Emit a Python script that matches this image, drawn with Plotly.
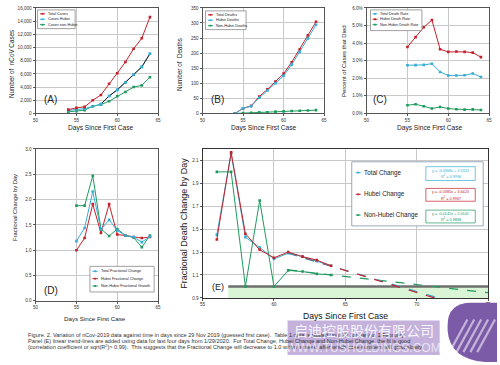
import plotly.graph_objects as go

W, H = 500, 365
FONT = "Liberation Sans, Arial, sans-serif"

RED = "#c4212b"
CYAN = "#35aed3"
GREEN = "#1f9a5e"

# ---------------- data ----------------
days_a = [54, 55, 56, 57, 58, 59, 60, 61, 62, 63, 64]
total_cases = [580, 850, 1000, 2000, 2800, 4500, 6100, 7800, 9800, 11400, 14600]
hubei_cases = [450, 550, 730, 1050, 1420, 2650, 3580, 4700, 5870, 7060, 9050]
nonhubei_cases = [250, 350, 500, 1100, 1350, 1850, 2600, 3250, 4000, 4250, 5500]

days_b = [54, 55, 56, 57, 58, 59, 60, 61, 62, 63, 64]
total_deaths = [0, 17, 25, 56, 80, 106, 132, 170, 213, 259, 304]
hubei_deaths = [0, 17, 24, 52, 76, 100, 125, 162, 204, 249, 294]
nonhubei_deaths = [0, 1, 2, 4, 4, 6, 7, 8, 9, 10, 11]

days_c = [55, 56, 57, 58, 59, 60, 61, 62, 63, 64]
total_rate = [2.74, 2.75, 2.76, 2.83, 2.36, 2.16, 2.16, 2.17, 2.27, 2.07]
hubei_rate = [3.78, 4.34, 4.90, 5.31, 3.65, 3.50, 3.52, 3.50, 3.46, 3.20]
nonhubei_rate = [0.47, 0.52, 0.41, 0.28, 0.37, 0.28, 0.24, 0.22, 0.23, 0.20]

days_d = [55, 56, 57, 58, 59, 60, 61, 62, 63, 64]
total_frac = [1.18, 1.44, 2.16, 1.41, 1.60, 1.39, 1.29, 1.26, 1.16, 1.27]
hubei_frac = [1.00, 1.24, 1.91, 1.34, 1.91, 1.31, 1.29, 1.26, 1.24, 1.26]
nonhubei_frac = [1.88, 1.88, 2.47, 1.42, 1.28, 1.42, 1.29, 1.25, 1.06, 1.29]

days_e = [56, 57, 58, 59, 60, 61, 62, 63, 64]
total_dchg = [1.45, 2.16, 1.43, 1.34, 1.24, 1.29, 1.26, 1.22, 1.18]
hubei_dchg = [1.41, 2.17, 1.46, 1.32, 1.25, 1.30, 1.26, 1.23, 1.18]
nonhubei_dchg = [2.00, 2.00, 1.00, 1.75, 1.00, 1.14, 1.13, 1.11, 1.10]

# trend lines given in panel E (slope, intercept, R^2)
trend_total = (-0.0368, 3.5323, "0.9996")
trend_hubei = (-0.0385, 3.6423, "0.9967")
trend_nonhubei = (-0.0142, 2.0101, "0.9868")
trend_x = [61, 75]

caption_lines = [
    "Figure. 2. Variation of nCov-2019 data against time in days since 29 Nov 2019 (guessed first case).  Table 1 data is plotted from 22 January to 1 February.",
    "Panel (E) linear trend-lines are added using data for last four days from 1/29/2020.  For Total Change, Hubei Change and Non-Hubei Change, the fit is good",
    "(correlation coefficient or sqrt(R<sup>2</sup>)> 0.99).  This suggests that the Fractional Change will decrease to 1.0 within a week, after which case numbers will grow slowly.",
]


def fx(x):
    return x / W


def fy(y):
    return 1 - y / H


fig = go.Figure()


def add_series(x, y, color, ax, line_color=None):
    fig.add_trace(go.Scatter(
        x=x, y=y, mode="lines+markers",
        line=dict(color=line_color or color, width=1),
        marker=dict(symbol="square", size=2.6, color=color),
        xaxis="x" + ax, yaxis="y" + ax, showlegend=False, hoverinfo="x+y"))


# Panel A
add_series(days_a, nonhubei_cases, GREEN, "")
add_series(days_a, hubei_cases, CYAN, "")
add_series(days_a[4:], hubei_cases[4:], CYAN, "", line_color="#1a1a1a")
add_series(days_a, total_cases, RED, "")
# Panel B
add_series(days_b, nonhubei_deaths, GREEN, "2")
add_series(days_b, total_deaths, RED, "2")
add_series(days_b, hubei_deaths, CYAN, "2")
# Panel C
add_series(days_c, total_rate, CYAN, "3")
add_series(days_c, hubei_rate, RED, "3")
add_series(days_c, nonhubei_rate, GREEN, "3")
# Panel D
add_series(days_d, nonhubei_frac, GREEN, "4")
add_series(days_d, hubei_frac, RED, "4")
add_series(days_d, total_frac, CYAN, "4")

# Panel E trend lines
for (m, b, _), col in [(trend_nonhubei, GREEN), (trend_total, CYAN), (trend_hubei, RED)]:
    fig.add_trace(go.Scatter(
        x=trend_x, y=[m * v + b for v in trend_x], mode="lines",
        line=dict(color=col, width=1.2, dash="dash"),
        xaxis="x5", yaxis="y5", showlegend=False, hoverinfo="skip"))
add_series(days_e, nonhubei_dchg, GREEN, "5")
add_series(days_e, total_dchg, CYAN, "5")
add_series(days_e, hubei_dchg, RED, "5")


def axis_style(**kw):
    d = dict(showline=True, linecolor="#555", linewidth=1, mirror=True,
             showgrid=True, gridcolor="#c9c9c9", gridwidth=0.8,
             ticks="outside", ticklen=2, tickcolor="#555", tickwidth=0.8,
             tickfont=dict(size=4.6, color="#333", family=FONT),
             zeroline=False, fixedrange=True)
    d.update(kw)
    return d


# domains in pixels
A = (33, 157, 6, 113)
B = (202, 325, 6, 113)
C = (368, 492, 6, 113)
D = (33, 157, 149, 303)
E = (202, 491, 149, 300)


def dom_x(p):
    return [fx(p[0]), fx(p[1])]


def dom_y(p):
    return [fy(p[3]), fy(p[2])]


fig.update_layout(
    width=W, height=H, autosize=False,
    margin=dict(l=0, r=0, t=0, b=0),
    paper_bgcolor="white", plot_bgcolor="white",
    font=dict(family=FONT, color="#222"),
    showlegend=False,
    xaxis=axis_style(domain=dom_x(A), range=[50, 65], dtick=5, tick0=50, anchor="y"),
    yaxis=axis_style(domain=dom_y(A), range=[0, 16000], dtick=2000, tickformat=",d", anchor="x"),
    xaxis2=axis_style(domain=dom_x(B), range=[50, 65], dtick=5, tick0=50, anchor="y2"),
    yaxis2=axis_style(domain=dom_y(B), range=[0, 350], dtick=50, anchor="x2"),
    xaxis3=axis_style(domain=dom_x(C), range=[50, 65], dtick=5, tick0=50, anchor="y3"),
    yaxis3=axis_style(domain=dom_y(C), range=[0, 6], dtick=1, tickformat=".1f", ticksuffix="%", anchor="x3"),
    xaxis4=axis_style(domain=dom_x(D), range=[50, 65], dtick=5, tick0=50, anchor="y4"),
    yaxis4=axis_style(domain=dom_y(D), range=[0, 3], dtick=0.5, tickformat=".1f", anchor="x4"),
    xaxis5=axis_style(domain=dom_x(E), range=[55, 75], dtick=5, tick0=55, anchor="y5",
                      linecolor="#333"),
    yaxis5=axis_style(domain=dom_y(E), range=[0.9, 2.2], dtick=0.2, tick0=0.9,
                      tickformat=".1f", anchor="x5", linecolor="#333"),
)

shapes = []
annotations = []

# Panel E: green band below 1.0 and thick line at 1.0
shapes.append(dict(type="rect", xref="x5", yref="y5", x0=56.8, x1=75, y0=0.9, y1=1.0,
                   fillcolor="#d9f5d6", line=dict(width=0), layer="between"))
shapes.append(dict(type="line", xref="x5", yref="y5", x0=56.8, x1=75, y0=1.0, y1=1.0,
                   line=dict(color="#6e6e6e", width=2.4), layer="between"))


def text(x, y, s, size, color="#222", angle=0, xanchor="center", family=FONT, **kw):
    annotations.append(dict(x=fx(x), y=fy(y), xref="paper", yref="paper", text=s,
                            showarrow=False, textangle=angle, xanchor=xanchor,
                            yanchor="middle", font=dict(size=size, color=color, family=family),
                            **kw))


# axis titles
text(99, 128, "Days Since First Case", 6.6)
text(264, 128, "Days Since First Case", 6.6)
text(432, 128, "Days Since First Case", 6.6)
text(93, 321, "Days Since First Case", 6.2)
text(347, 318, "Days Since First Case", 8.6, color="#111")
text(8, 63, "Number of  nCoV Cases", 6.3, angle=-90)
text(178, 63, "Number of  Deaths", 6.3, angle=-90)
text(345, 60, "Percent of Cases that Died", 6.0, angle=-90)
text(12, 208, "Fractional Change by Day", 5.8, angle=-90)
text(183, 224, "Fractional Death Change by Day", 9.0, angle=-90)

# panel labels
text(48, 99, "(A)", 10)
text(217, 99, "(B)", 10)
text(382, 99, "(C)", 10)
text(49, 292, "(D)", 10)
text(218, 289, "(E)", 9)


def legend(box, entries, mx, tx, size, border="#888"):
    x0, y0, x1, y1 = box
    shapes.append(dict(type="rect", xref="paper", yref="paper", x0=fx(x0), x1=fx(x1),
                       y0=fy(y1), y1=fy(y0), fillcolor="white",
                       line=dict(color=border, width=0.8), layer="above"))
    for label, col, y in entries:
        shapes.append(dict(type="line", xref="paper", yref="paper", x0=fx(mx[0]), x1=fx(mx[1]),
                           y0=fy(y), y1=fy(y), line=dict(color=col, width=1), layer="above"))
        c = (mx[0] + mx[1]) / 2
        shapes.append(dict(type="rect", xref="paper", yref="paper", x0=fx(c - 0.9), x1=fx(c + 0.9),
                           y0=fy(y + 0.9), y1=fy(y - 0.9), fillcolor=col,
                           line=dict(width=0), layer="above"))
        text(tx, y, label, size, xanchor="left")


legend((35, 8, 73, 27), [("Total Cases", RED, 12), ("Cases Hubei", CYAN, 17.5),
                         ("Cases non-Hubei", GREEN, 23)], (37.5, 42.5), 43.5, 3.8)
legend((205, 9, 246, 28), [("Total Deaths", RED, 13), ("Hubei Deaths", CYAN, 18.5),
                           ("Non-Hubei Deaths", GREEN, 24)], (207.5, 212.5), 213.5, 3.8)
legend((372, 8, 424, 29), [("Total Death Rate", CYAN, 12), ("Hubei Death Rate", RED, 17.5),
                           ("Non-Hubei Death Rate", GREEN, 23)], (374, 379), 380, 3.8)
legend((88, 268, 153, 294), [("Total Fractional Change", CYAN, 273), ("Hubei Fractional Change", RED, 280.5),
                             ("Non-Hubei Fractional Growth", GREEN, 288)], (90.5, 96), 97.5, 3.8)

# Panel E legend
legend((353, 162, 486, 227), [("Total Change", CYAN, 173), ("Hubei Change", RED, 195),
                              ("Non-Hubei Change", GREEN, 216)], (357, 362), 363, 6.3,
       border="#7d93aa")
for (m, b, r2), col, (ey0, ey1) in [(trend_total, CYAN, (167, 181)),
                                     (trend_hubei, RED, (189, 202)),
                                     (trend_nonhubei, GREEN, (211, 224))]:
    shapes.append(dict(type="rect", xref="paper", yref="paper", x0=fx(428), x1=fx(478),
                       y0=fy(ey1), y1=fy(ey0), fillcolor="white",
                       line=dict(color=col, width=0.7), layer="above"))
    eq = "y = %.4fx + %.4f" % (m, b)
    text(453, ey0 + 4, eq, 3.8, color=col)
    text(453, ey0 + 9.5, "R<sup>2</sup> = " + r2, 3.8, color=col)

# caption
for i, line in enumerate(caption_lines):
    text(23, 338 + i * 5.5, line, 5.55, color="#333", xanchor="left")

# watermark overlay
shapes.append(dict(type="path", xref="paper", yref="paper",
                   path="M %f,%f L %f,%f Q %f,%f %f,%f L %f,%f Q %f,%f %f,%f L %f,%f Z" % (
                       fx(500), fy(305), fx(474), fy(305), fx(450), fy(305), fx(450), fy(328),
                       fx(450), fy(333), fx(452), fy(362), fx(488), fy(365), fx(500), fy(365)),
                   fillcolor="#7b5aa8", line=dict(width=0), layer="above"))
for k in range(5):
    shapes.append(dict(type="line", xref="paper", yref="paper",
                       x0=fx(452 + k * 7), y0=fy(355), x1=fx(470 + k * 7), y1=fy(322),
                       line=dict(color="rgba(255,255,255,0.55)", width=2.2), layer="above"))
shapes.append(dict(type="rect", xref="paper", yref="paper", x0=fx(288), x1=fx(442),
                   y0=fy(358), y1=fy(323), fillcolor="rgba(160,130,200,0.62)",
                   line=dict(width=0), layer="above"))
text(365, 333, "启迪控股股份有限公司", 14, color="rgba(255,255,255,0.9)",
     family="Noto Sans CJK SC")
text(365, 351, "WWW.TUSHOLDINGS.COM", 12, color="rgba(255,255,255,0.65)")

fig.update_layout(shapes=shapes, annotations=annotations)
fig.write_html("out.html", config={"displayModeBar": False},
               post_script="document.body.style.margin='0';document.body.style.overflow='hidden';")
